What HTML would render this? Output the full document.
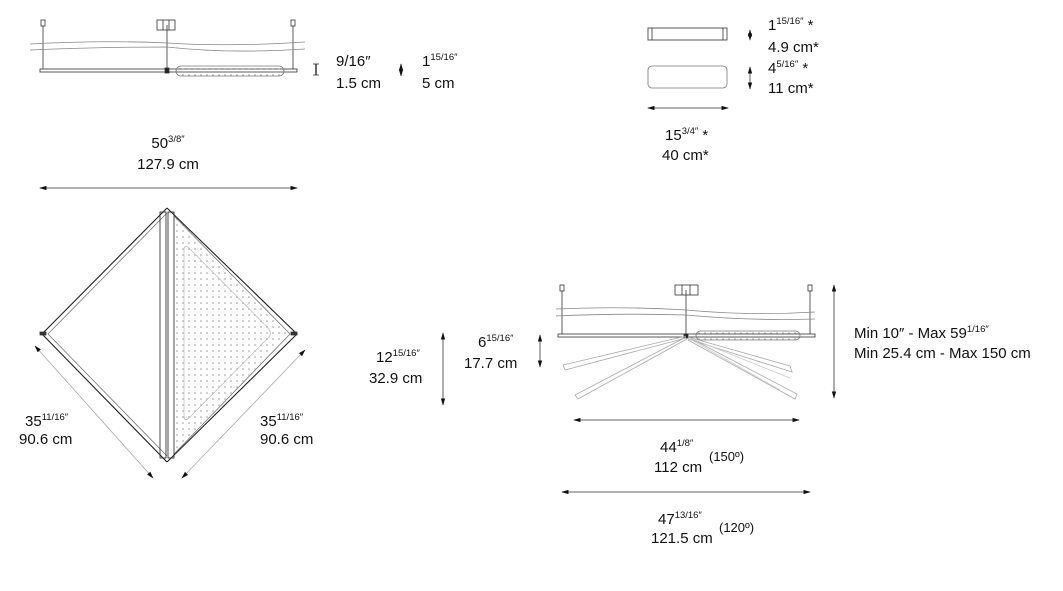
<!DOCTYPE html>
<html><head><meta charset="utf-8"><style>
html,body{margin:0;padding:0;background:#fff;}
svg{display:block;font-family:"Liberation Sans",sans-serif;}
text{font-size:15px;fill:#111;}
.s{font-size:9.5px;}
</style></head><body>
<svg width="1063" height="591" viewBox="0 0 1063 591" xmlns="http://www.w3.org/2000/svg">
<defs>
<marker id="a" viewBox="0 0 10 10" refX="9" refY="5" markerWidth="9" markerHeight="9" orient="auto-start-reverse"><path d="M0,2 L10,5 L0,8 z" fill="#111"/></marker>
<pattern id="dots" width="6" height="6" patternUnits="userSpaceOnUse"><circle cx="3" cy="3" r="0.8" fill="#999"/></pattern>
</defs>
<g stroke="#333" fill="none" stroke-width="0.8">
<!-- top-left elevation -->
<rect x="41" y="20" width="4" height="6"/><rect x="291" y="20" width="4" height="6"/>
<line x1="43" y1="26" x2="43" y2="69"/><line x1="293" y1="26" x2="293" y2="69"/>
<rect x="157" y="20" width="18" height="10"/><line x1="163" y1="20" x2="163" y2="30"/><line x1="169" y1="20" x2="169" y2="30"/>
<line x1="167" y1="25" x2="167" y2="70"/>
<path d="M30,44 Q100,40 167,43 Q230,47 305,42" stroke="#888"/>
<path d="M30,50 Q100,47 167,47 Q230,54 305,49" stroke="#888"/>
<rect x="40" y="69" width="257" height="3"/>
<rect x="176" y="66" width="108" height="10" rx="5" fill="url(#dots)" stroke="#777"/>
<rect x="165" y="68" width="4" height="5" fill="#222"/>
<!-- I bracket -->
<line x1="316" y1="64" x2="316" y2="75" stroke-width="1.5"/><line x1="313" y1="64" x2="319" y2="64"/><line x1="313" y1="75" x2="319" y2="75"/>
<line x1="401" y1="64" x2="401" y2="76" marker-start="url(#a)" marker-end="url(#a)"/>
<!-- width dim -->
<line x1="40" y1="188" x2="297" y2="188" marker-start="url(#a)" marker-end="url(#a)"/>
<!-- diamond -->
<polygon points="174,214 288,334 174,455" fill="url(#dots)" stroke="none"/>
<path d="M167,208 L42,334 L167,462" stroke="#222" stroke-width="1.1"/>
<path d="M167,213 L48,334 L167,456" stroke="#777"/>
<path d="M167,208 L297,334 L167,462" stroke="#222" stroke-width="1.1"/>
<path d="M174,216 L290,334 L174,454" stroke="#777"/>
<rect x="160" y="212" width="6" height="246" stroke="#222"/><rect x="168" y="212" width="6" height="246" stroke="#222"/>
<path d="M184,250 Q184,244 189,248 L268,328 Q273,334 268,338 L189,418 Q184,422 184,416 Z" stroke="#bbb" stroke-width="0.7"/>
<rect x="40" y="332" width="6" height="3" fill="#333"/><rect x="291" y="332" width="6" height="3" fill="#333"/>
<line x1="35" y1="346" x2="153" y2="478" stroke="#aaa" marker-start="url(#a)" marker-end="url(#a)"/>
<line x1="305" y1="350" x2="182" y2="478" stroke="#aaa" marker-start="url(#a)" marker-end="url(#a)"/>
<!-- top right boxes -->
<rect x="648" y="28" width="79" height="12"/><line x1="652" y1="28" x2="652" y2="40"/><line x1="723" y1="28" x2="723" y2="40"/>
<rect x="648" y="66" width="79" height="22" rx="4" stroke="#777"/>
<line x1="750" y1="30" x2="750" y2="40" marker-start="url(#a)" marker-end="url(#a)"/>
<line x1="750" y1="67" x2="750" y2="89" marker-start="url(#a)" marker-end="url(#a)"/>
<line x1="648" y1="108" x2="728" y2="108" marker-start="url(#a)" marker-end="url(#a)"/>
<!-- bottom right elevation -->
<rect x="560" y="285" width="4" height="6"/><rect x="808" y="285" width="4" height="6"/>
<line x1="562" y1="291" x2="562" y2="334"/><line x1="810" y1="291" x2="810" y2="334"/>
<rect x="675" y="285" width="23" height="10"/><line x1="682" y1="285" x2="682" y2="295"/><line x1="690" y1="285" x2="690" y2="295"/>
<line x1="686" y1="290" x2="686" y2="335"/>
<path d="M556,309 Q620,306 686,310 Q750,316 815,312" stroke="#888"/>
<path d="M556,316 Q620,313 686,315 Q750,321 815,319" stroke="#888"/>
<rect x="558" y="334" width="257" height="3"/>
<rect x="696" y="331" width="104" height="9" rx="4.5" fill="url(#dots)" stroke="#777"/>
<rect x="684" y="334" width="4" height="4" fill="#222"/>
<g stroke="#aaa">
<path d="M686,336 L563,365 L565,370 L686,338"/>
<path d="M686,337 L575,395 L578,399 L687,339"/>
<path d="M688,337 L790,366 L792,372 L688,339"/>
<path d="M688,337 L797,394 L795,399 L688,340"/>
<path d="M690,338 L790,378 M690,339 L780,390" stroke="#ccc"/>
</g>
<line x1="834" y1="285" x2="834" y2="398" marker-start="url(#a)" marker-end="url(#a)"/>
<line x1="443" y1="333" x2="443" y2="405" marker-start="url(#a)" marker-end="url(#a)"/>
<line x1="540" y1="335" x2="540" y2="367" marker-start="url(#a)" marker-end="url(#a)"/>
<line x1="574" y1="420" x2="799" y2="420" marker-start="url(#a)" marker-end="url(#a)"/>
<line x1="562" y1="492" x2="810" y2="492" marker-start="url(#a)" marker-end="url(#a)"/>
</g>
<!-- texts -->
<text x="336" y="66">9/16″</text><text x="336" y="88">1.5 cm</text>
<text x="422" y="66">1<tspan class="s" dy="-6">15/16″</tspan></text><text x="422" y="88">5 cm</text>
<text x="168" y="148" text-anchor="middle">50<tspan class="s" dy="-6">3/8″</tspan></text>
<text x="168" y="169" text-anchor="middle">127.9 cm</text>
<text x="25" y="426">35<tspan class="s" dy="-6">11/16″</tspan></text><text x="19" y="444">90.6 cm</text>
<text x="260" y="426">35<tspan class="s" dy="-6">11/16″</tspan></text><text x="260" y="444">90.6 cm</text>
<text x="768" y="30">1<tspan class="s" dy="-6">15/16″</tspan><tspan dy="6"> *</tspan></text><text x="768" y="52">4.9 cm*</text>
<text x="768" y="73">4<tspan class="s" dy="-6">5/16″</tspan><tspan dy="6"> *</tspan></text><text x="768" y="93">11 cm*</text>
<text x="665" y="140">15<tspan class="s" dy="-6">3/4″</tspan><tspan dy="6"> *</tspan></text><text x="662" y="160">40 cm*</text>
<text x="854" y="338">Min 10″ - Max 59<tspan class="s" dy="-6">1/16″</tspan></text>
<text x="854" y="358">Min 25.4 cm - Max 150 cm</text>
<text x="376" y="362">12<tspan class="s" dy="-6">15/16″</tspan></text><text x="369" y="383">32.9 cm</text>
<text x="478" y="347">6<tspan class="s" dy="-6">15/16″</tspan></text><text x="464" y="368">17.7 cm</text>
<text x="660" y="452">44<tspan class="s" dy="-6">1/8″</tspan></text><text x="654" y="472">112 cm</text><text x="709" y="461" style="font-size:13px">(150º)</text>
<text x="658" y="524">47<tspan class="s" dy="-6">13/16″</tspan></text><text x="651" y="543">121.5 cm</text><text x="719" y="532" style="font-size:13px">(120º)</text>
</svg>
</body></html>
